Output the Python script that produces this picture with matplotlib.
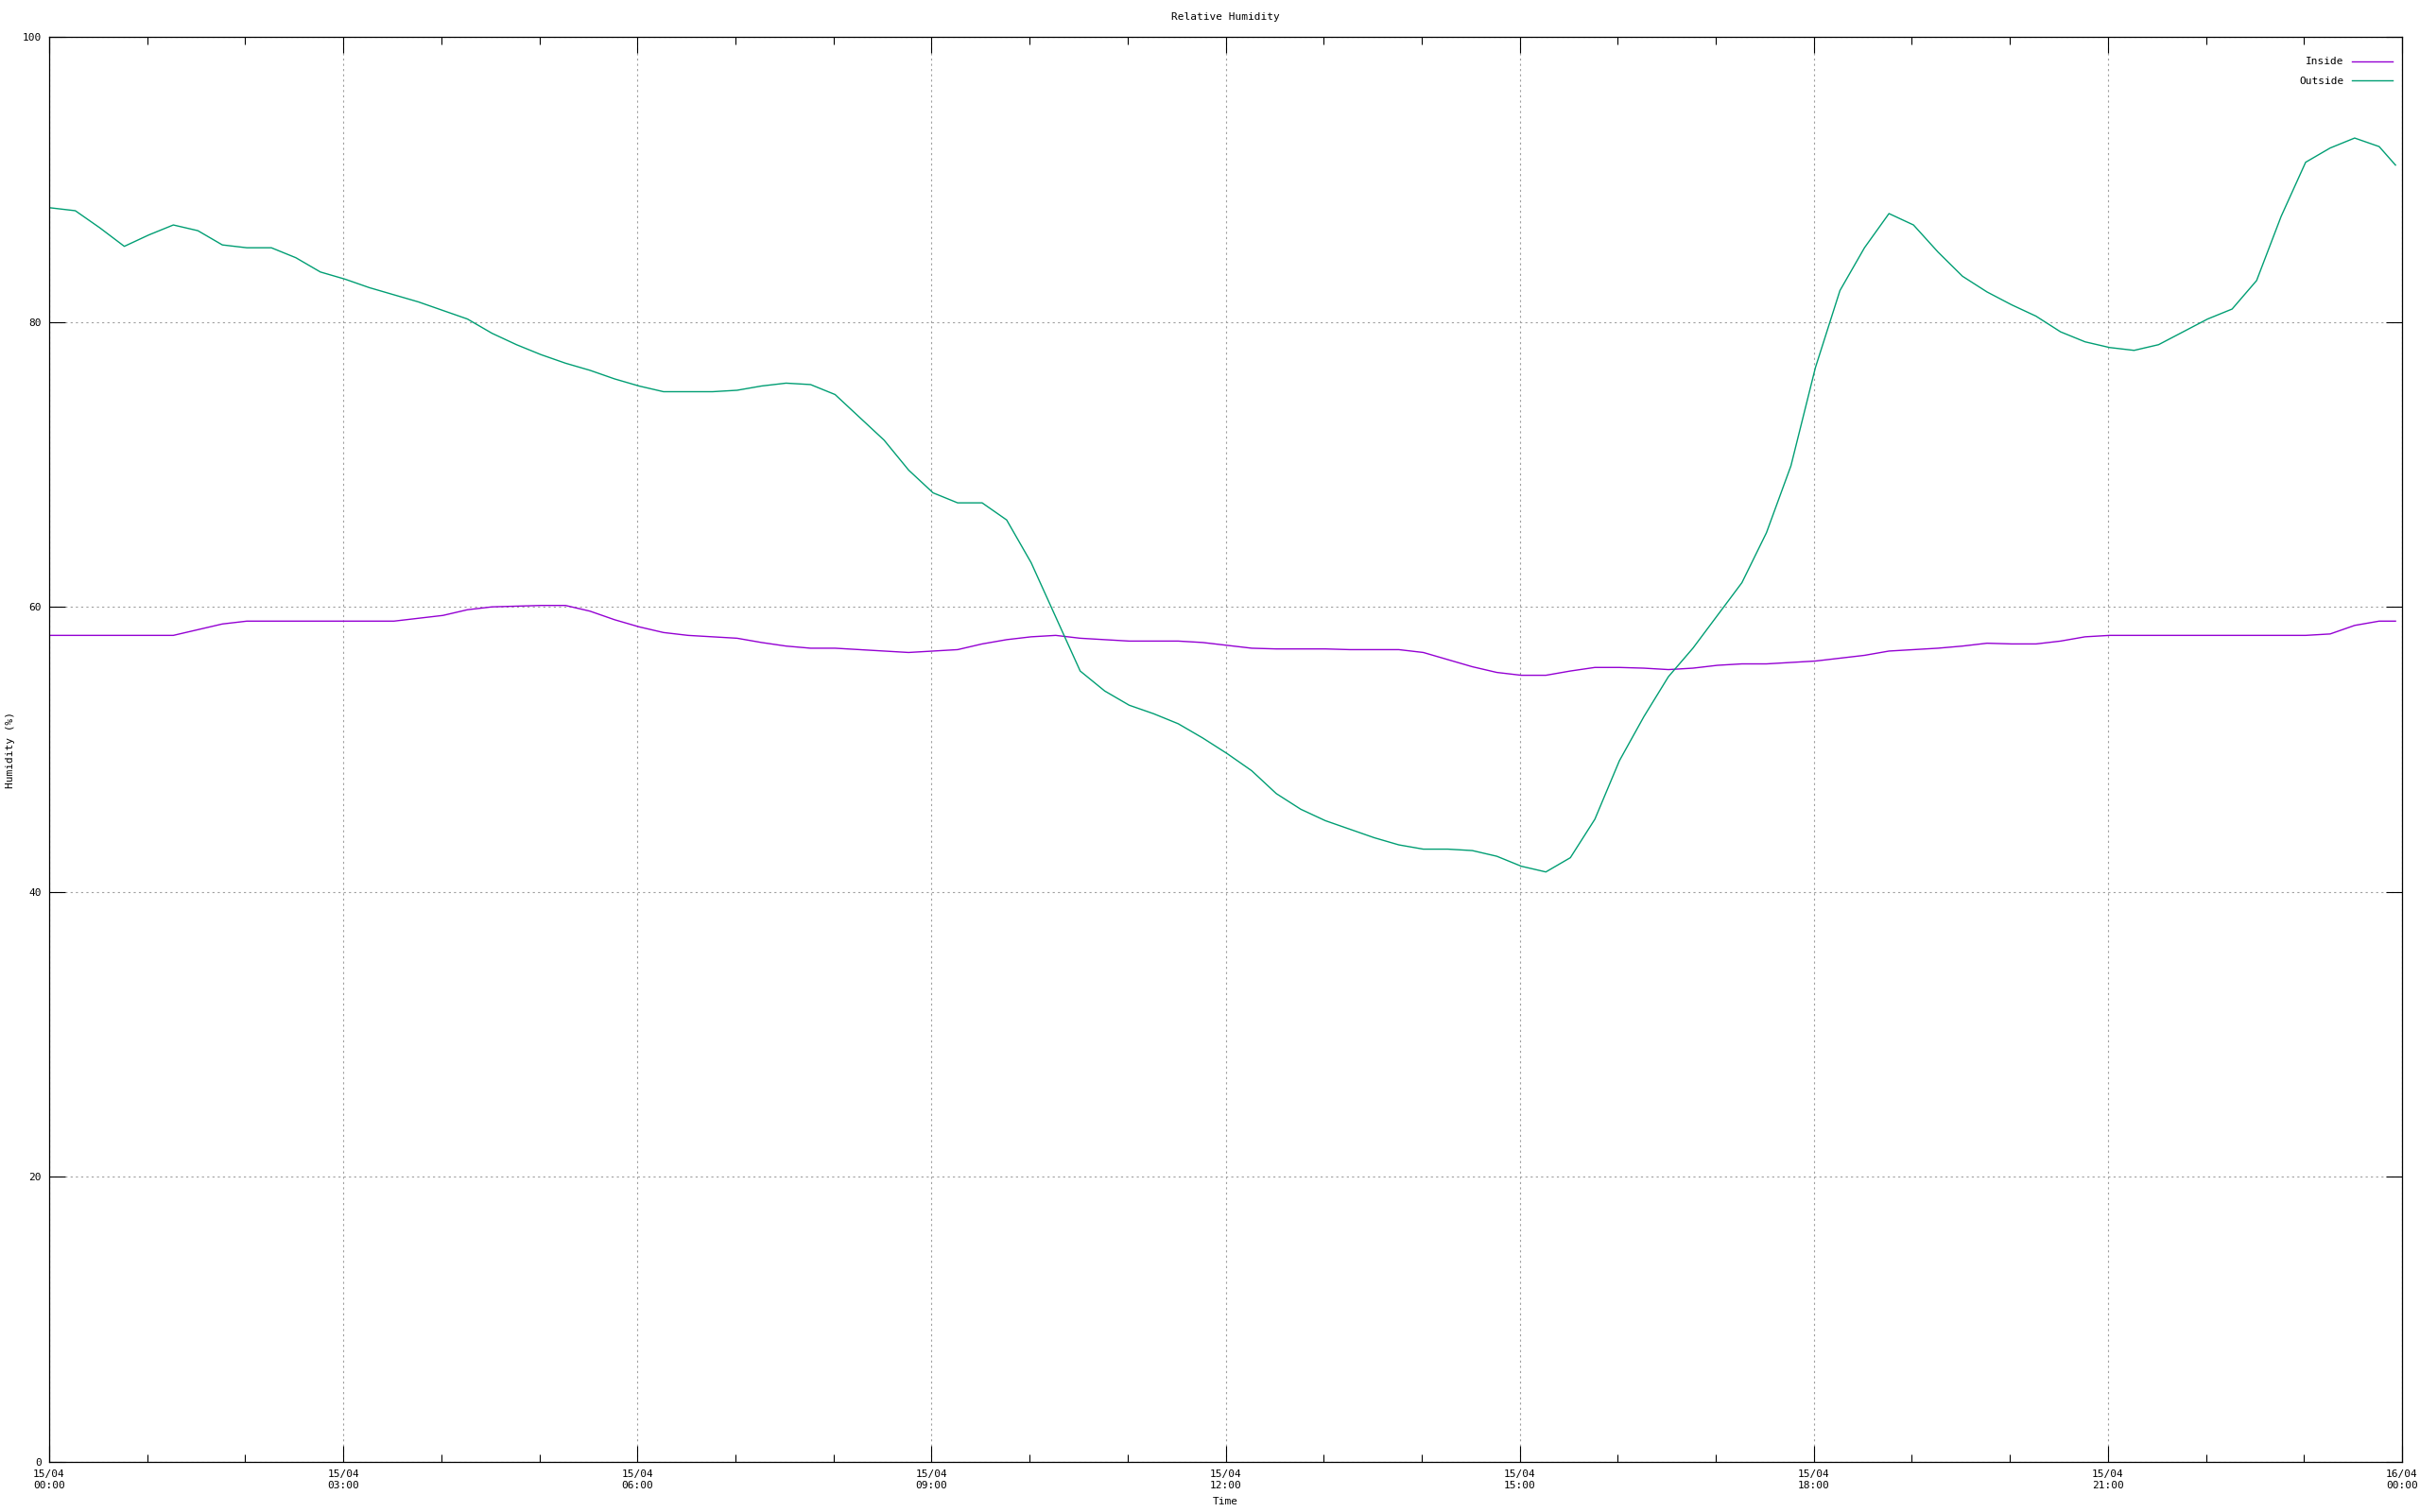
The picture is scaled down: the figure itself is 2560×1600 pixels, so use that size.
import numpy as np
import pandas as pd
import matplotlib
matplotlib.use("Agg")
import matplotlib.pyplot as plt
import matplotlib.dates as mdates

# readings roughly every 15 min on 15/04, last one just before midnight
times = pd.date_range("2024-04-15 00:01", periods=96, freq="15min").append(
    pd.DatetimeIndex(["2024-04-15 23:56"]))

inside = [
    58.0, 58.0, 58.0, 58.0, 58.0, 58.0, 58.4, 58.8,
    59.0, 59.0, 59.0, 59.0, 59.0, 59.0, 59.0, 59.2,
    59.4, 59.8, 60.0, 60.05, 60.1, 60.1, 59.7, 59.1,
    58.6, 58.2, 58.0, 57.9, 57.8, 57.5, 57.25, 57.1,
    57.1, 57.0, 56.9, 56.8, 56.9, 57.0, 57.4, 57.7,
    57.9, 58.0, 57.8, 57.7, 57.6, 57.6, 57.6, 57.5,
    57.3, 57.1, 57.05, 57.05, 57.05, 57.0, 57.0, 57.0,
    56.8, 56.3, 55.8, 55.4, 55.2, 55.2, 55.5, 55.75,
    55.75, 55.7, 55.6, 55.7, 55.9, 56.0, 56.0, 56.1,
    56.2, 56.4, 56.6, 56.9, 57.0, 57.1, 57.25, 57.45,
    57.4, 57.4, 57.6, 57.9, 58.0, 58.0, 58.0, 58.0,
    58.0, 58.0, 58.0, 58.0, 58.0, 58.1, 58.7, 59.0,
    59.0,
]

outside = [
    88.0, 87.8, 86.6, 85.3, 86.1, 86.8, 86.4, 85.4,
    85.2, 85.2, 84.5, 83.5, 83.0, 82.4, 81.9, 81.4,
    80.8, 80.2, 79.2, 78.4, 77.7, 77.1, 76.6, 76.0,
    75.5, 75.1, 75.1, 75.1, 75.2, 75.5, 75.7, 75.6,
    74.9, 73.3, 71.7, 69.6, 68.0, 67.3, 67.3, 66.1,
    63.1, 59.3, 55.5, 54.1, 53.1, 52.5, 51.8, 50.8,
    49.7, 48.5, 46.9, 45.8, 45.0, 44.4, 43.8, 43.3,
    43.0, 43.0, 42.9, 42.5, 41.8, 41.4, 42.4, 45.1,
    49.2, 52.3, 55.1, 57.1, 59.4, 61.7, 65.2, 69.9,
    76.8, 82.2, 85.2, 87.6, 86.8, 84.9, 83.2, 82.1,
    81.2, 80.4, 79.3, 78.6, 78.2, 78.0, 78.4, 79.3,
    80.2, 80.9, 82.9, 87.4, 91.2, 92.2, 92.9, 92.3,
    91.0,
]

font = "DejaVu Sans Mono"
plt.rcParams["font.family"] = font
plt.rcParams["font.size"] = 8

fig = plt.figure(figsize=(25.6, 16), dpi=100)
ax = fig.add_axes([52 / 2560, 53 / 1600, 2489 / 2560, 1508 / 1600])

ax.plot(times, inside, color="#9400D3", linewidth=1.0, label="Inside")
ax.plot(times, outside, color="#009E73", linewidth=1.0, label="Outside")

ax.set_xlim(pd.Timestamp("2024-04-15 00:00"), pd.Timestamp("2024-04-16 00:00"))
ax.set_ylim(0, 100)
ax.set_yticks(np.arange(0, 101, 20))

ax.xaxis.set_major_locator(mdates.HourLocator(byhour=range(0, 24, 3)))
ax.xaxis.set_minor_locator(mdates.HourLocator())
ax.xaxis.set_major_formatter(mdates.DateFormatter("%d/%m\n%H:%M"))

ax.tick_params(which="major", direction="in", length=12.5, width=0.8,
               top=True, right=True, pad=6, labelsize=8)
ax.tick_params(which="minor", direction="in", length=6, width=0.8,
               top=True, right=True)
for s in ax.spines.values():
    s.set_linewidth(0.9)

ax.grid(True, which="major", color="#a0a0a0", linestyle=(0, (2, 3)), linewidth=0.8)

ax.set_title("Relative Humidity", fontsize=8, pad=13)
ax.set_xlabel("Time", fontsize=8, labelpad=5)
ax.set_ylabel("Humidity (%)", fontsize=8, labelpad=5)

ax.legend(loc="upper right", bbox_to_anchor=(1 - 6 / 2489, 1 - 17 / 1508),
          frameon=False, markerfirst=False, borderaxespad=0,
          handlelength=3.8, fontsize=8, labelspacing=0.95, handletextpad=0.8)

fig.savefig("out.png", dpi=100)
